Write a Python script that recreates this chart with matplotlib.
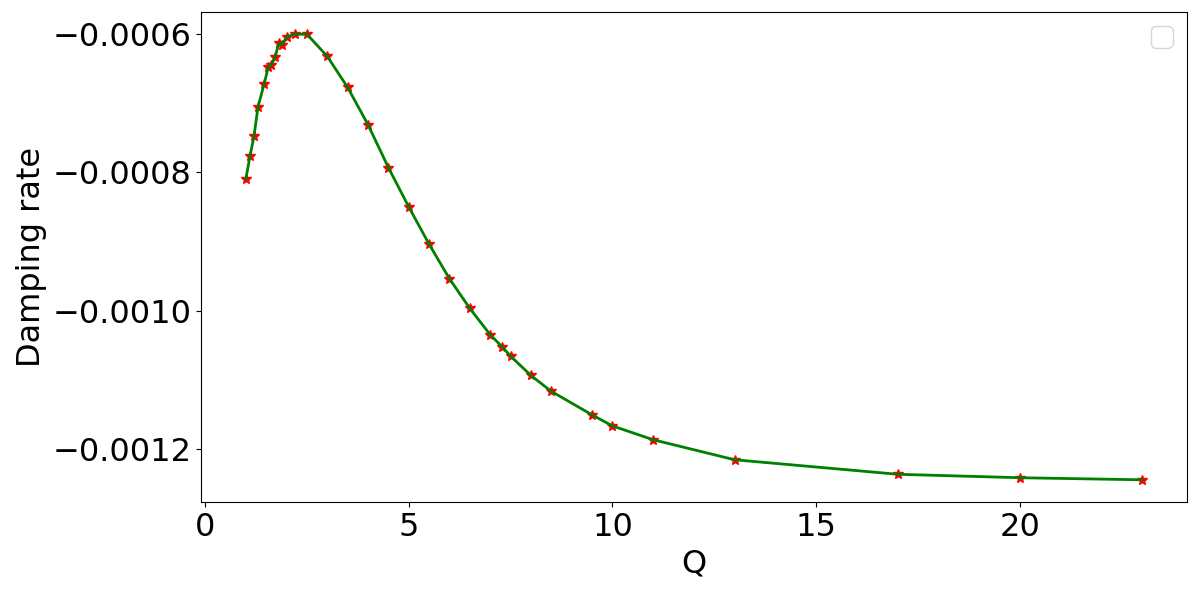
import matplotlib
matplotlib.use("Agg")
import matplotlib.pyplot as plt
from matplotlib.ticker import MultipleLocator

Q = [1.0, 1.1, 1.2, 1.3, 1.45, 1.55, 1.62, 1.72, 1.81, 1.9, 2.0, 2.2, 2.5,
     3.0, 3.5, 4.0, 4.5, 5.0, 5.5, 6.0, 6.5, 7.0, 7.3, 7.5, 8.0, 8.5,
     9.5, 10.0, 11.0, 13.0, 17.0, 20.0, 23.0]
damping = [-0.000810, -0.000777, -0.000748, -0.000705, -0.000672, -0.000648,
           -0.000645, -0.000633, -0.000613, -0.000615, -0.000604, -0.000600,
           -0.000600, -0.000632, -0.000677, -0.000731, -0.000793, -0.000850,
           -0.000904, -0.000954, -0.000997, -0.001035, -0.001053, -0.001066,
           -0.001094, -0.001117, -0.001151, -0.001167, -0.001187, -0.001216,
           -0.001237, -0.001242, -0.001245]

fig, ax = plt.subplots(figsize=(12, 5.97), dpi=100)
ax.plot(Q, damping, linestyle="none", marker="*", color="red", markersize=7)
ax.plot(Q, damping, color="green", linewidth=2)
ax.set_xlabel("Q", fontsize=23)
ax.set_ylabel("Damping rate", fontsize=23)
ax.tick_params(labelsize=23)
ax.yaxis.set_major_locator(MultipleLocator(0.0002))
ax.legend(fontsize=20)
fig.subplots_adjust(left=0.1675, right=0.989, top=0.980, bottom=0.159)
fig.savefig("out.png", dpi=100)
